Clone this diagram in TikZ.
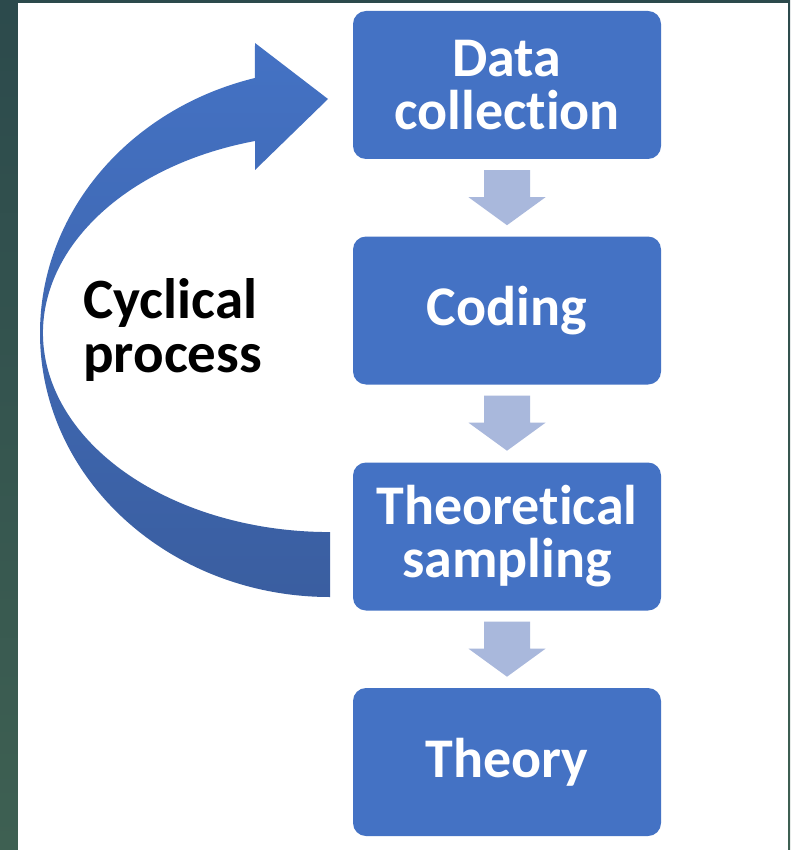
\documentclass[tikz,border=0pt]{standalone}
\usepackage{fontspec}
\setmainfont{Carlito}[Ligatures=NoCommon]
\usetikzlibrary{calc}
\definecolor{boxblue}{HTML}{4472C4}
\definecolor{darkblue}{HTML}{3A5EA0}
\definecolor{lightarrow}{HTML}{A9B8DC}
\definecolor{bgtop}{HTML}{2C4A4C}
\definecolor{bgbot}{HTML}{3E6052}
\tikzset{
  stepbox/.style={draw=none, fill=boxblue, rounded corners=13pt, minimum width=308pt,
    minimum height=148pt, inner sep=0pt, text=white, align=center,
    font=\fontsize{56pt}{53pt}\selectfont\bfseries},
  smallarrow/.style={fill=lightarrow, draw=none},
  label/.style={inner sep=0pt, align=left, text=black,
    font=\fontsize{57pt}{54pt}\selectfont\bfseries},
  bigarrow/.style={top color=boxblue, bottom color=darkblue, draw=none}
}
\newcommand\blockdown[1]{%
  \path[smallarrow] ($(#1.south)+(-23pt,-11pt)$) -- ++(46pt,0) -- ++(0,-27pt)
    -- ++(15.5pt,0) -- ($(#1.south)+(0,-66pt)$) -- ($(#1.south)+(-38.5pt,-38pt)$)
    -- ++(15.5pt,0) -- cycle;}
\begin{document}
\begin{tikzpicture}[x=1pt,y=1pt]
\useasboundingbox (0,0) rectangle (790,-850);
% background
\shade[top color=bgtop, bottom color=bgbot] (0,0) rectangle (790,-850);
\fill[white] (18,-3) rectangle (788,-850);
% boxes
\node[stepbox] (d1) at (507,-85) {Data\\collection};
\node[stepbox] (d2) at (507,-310.5) {Coding};
\node[stepbox] (d3) at (507,-536.5) {Theoretical\\sampling};
\node[stepbox] (d4) at (507,-762) {Theory};
% small arrows
\blockdown{d1}
\blockdown{d2}
\blockdown{d3}
% big curved arrow
\path[bigarrow] (330,-597) arc[start angle=270, end angle=105, x radius=290, y radius=264]
  -- (255,-43) -- (328,-99) -- (255,-170) -- (255,-141)
  arc[start angle=105.15, end angle=270, x radius=287, y radius=199] -- cycle;
% label
\node[label, anchor=west] (cyc) at (83,-330) {Cyclical\\process};
\end{tikzpicture}
\end{document}
